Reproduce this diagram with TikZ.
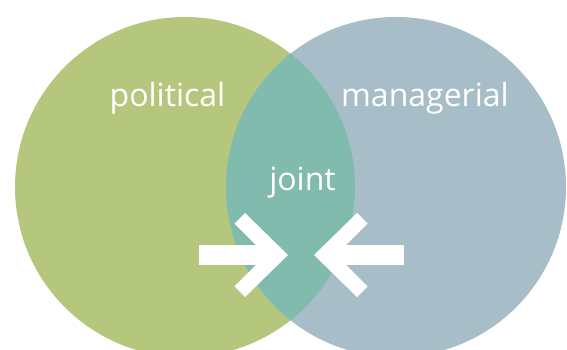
\documentclass[tikz,border=0pt]{standalone}
\usepackage{fontspec}
\setmainfont{Open Sans}
\definecolor{polgreen}{RGB}{181,199,125}
\definecolor{mgrblue}{RGB}{167,189,200}
\definecolor{jointteal}{RGB}{128,187,173}
\tikzset{
  setcircle/.style={circle, minimum size=340pt, inner sep=0pt, draw=none},
  lbl/.style={text=white, anchor=base, inner sep=0pt, font=\fontsize{32}{38}\selectfont},
  arrowfill/.style={fill=white, draw=none}
}
\begin{document}
\begin{tikzpicture}[x=1pt,y=-1pt]
\useasboundingbox (0,0) rectangle (567,350);
\begin{scope}
\clip (0,0) rectangle (567,350);
\node[setcircle, fill=polgreen] (pol) at (185,187) {};
\node[setcircle, fill=mgrblue] (mgr) at (396,187) {};
\begin{scope}
\clip (185,187) circle (170);
\fill[jointteal] (396,187) circle (170);
\end{scope}
\end{scope}
\node[lbl] (tpol) at (167.5,106.5) {political};
\node[lbl] (tmgr) at (425,106.5) {managerial};
\node[lbl] (tjoint) at (302.5,190.5) {joint};
% left arrow
\fill[arrowfill] (199,245) rectangle (272,265);
\fill[arrowfill] (245,213) -- (288,255) -- (245,297) -- (234.4,286.4) -- (266,255) -- (234.4,223.6) -- cycle;
% right arrow
\fill[arrowfill] (333,245) rectangle (404,265);
\fill[arrowfill] (357,213) -- (314,255) -- (357,297) -- (367.6,286.4) -- (336,255) -- (367.6,223.6) -- cycle;
\end{tikzpicture}
\end{document}
